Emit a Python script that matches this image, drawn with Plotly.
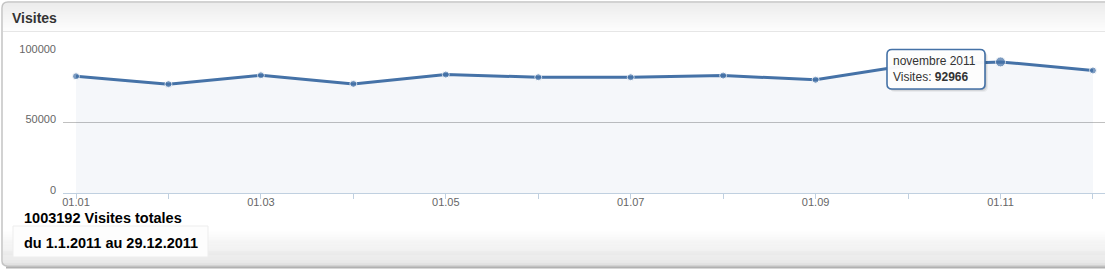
import plotly.graph_objects as go

# ---- data ----
months = ["01.01", "01.02", "01.03", "01.04", "01.05", "01.06",
          "01.07", "01.08", "01.09", "01.10", "01.11", "01.12"]
tick_labels = ["01.01", "", "01.03", "", "01.05", "", "01.07", "", "01.09", "", "01.11", ""]
visits = [82800, 77200, 83500, 77400, 84000, 82100, 82100, 83300, 80300, 90626, 92966, 86900]
y_ticks = [0, 50000, 100000]
title_text = "Visites"
series_name = "Visites"
tooltip_month = "novembre 2011"
tooltip_index = 10
total_visits = 1003192
period_text = "du 1.1.2011 au 29.12.2011"

W, H = 1105, 269
ML, MR, MT, MB = 63, 0, 52, 76
PW, PH = W - ML - MR, H - MT - MB
step = 92.45
x0 = -13 / step
x1 = x0 + PW / step


def px(x):
    return (x - ML) / PW


def py(y):
    return (H - MB - y) / PH


def mix(c1, c2, t):
    return "#%02x%02x%02x" % tuple(round(a + (b - a) * t) for a, b in zip(c1, c2))


x_idx = list(range(len(months)))

fig = go.Figure()
fig.add_trace(go.Scatter(
    x=x_idx, y=visits, mode="lines+markers", fill="tozeroy",
    fillcolor="rgba(69,114,167,0.055)",
    line=dict(color="#4572A7", width=3),
    marker=dict(size=[10 if i == tooltip_index else 7 for i in x_idx], color="#4572A7"),
    cliponaxis=False, hoverinfo="skip", showlegend=False,
))

shapes = []
# panel background gradients (header + footer)
n = 28
for i in range(n):
    t = i / (n - 1)
    ya, yb = 3 + i * 28 / n, 3 + (i + 1) * 28 / n
    shapes.append(dict(type="rect", xref="paper", yref="paper", layer="below",
                       x0=px(3), x1=px(W + 5), y0=py(yb), y1=py(ya),
                       fillcolor=mix((236, 236, 236), (253, 253, 253), t), line_width=0))
n = 32
for i in range(n):
    t = i / (n - 1)
    ya, yb = 230 + i * 35 / n, 230 + (i + 1) * 35 / n
    shapes.append(dict(type="rect", xref="paper", yref="paper", layer="below",
                       x0=px(3), x1=px(W + 5), y0=py(yb), y1=py(ya),
                       fillcolor=mix((255, 255, 255), (225, 225, 225), t), line_width=0))
# header separator
shapes.append(dict(type="line", xref="paper", yref="paper", layer="below",
                   x0=px(3), x1=px(W + 5), y0=py(31.5), y1=py(31.5),
                   line=dict(color="#e6e6e6", width=1)))
# panel border (rounded)
shapes.append(dict(type="path", xref="paper", yref="paper", layer="below",
                   path=(f"M {px(W+10)},{py(2)} L {px(8)},{py(2)} Q {px(2)},{py(2)} {px(2)},{py(8)} "
                         f"L {px(2)},{py(261)} Q {px(2)},{py(266)} {px(8)},{py(266)} L {px(W+10)},{py(266)}"),
                   line=dict(color="#c4c4c4", width=1.5)))
shapes.append(dict(type="line", xref="paper", yref="paper", layer="below",
                   x0=px(6), x1=px(W + 5), y0=py(267.5), y1=py(267.5),
                   line=dict(color="#b0b0b0", width=2)))
# period box
shapes.append(dict(type="rect", xref="paper", yref="paper", layer="below",
                   x0=px(13), x1=px(208), y0=py(257), y1=py(226),
                   fillcolor="#fdfdfd", line=dict(color="#ededed", width=1)))
# tooltip box with shadow
bx0, bx1, by0, by1, r = 887, 985, 49.5, 89, 5


def rounded(xa, xb, ya, yb, rr):
    return (f"M {px(xa+rr)},{py(ya)} L {px(xb-rr)},{py(ya)} Q {px(xb)},{py(ya)} {px(xb)},{py(ya+rr)} "
            f"L {px(xb)},{py(yb-rr)} Q {px(xb)},{py(yb)} {px(xb-rr)},{py(yb)} "
            f"L {px(xa+rr)},{py(yb)} Q {px(xa)},{py(yb)} {px(xa)},{py(yb-rr)} "
            f"L {px(xa)},{py(ya+rr)} Q {px(xa)},{py(ya)} {px(xa+rr)},{py(ya)} Z")


for k, a in ((3, 0.05), (2, 0.08), (1, 0.12)):
    shapes.append(dict(type="path", xref="paper", yref="paper", layer="above",
                       path=rounded(bx0 + k, bx1 + k, by0 + k, by1 + k, r),
                       fillcolor=f"rgba(0,0,0,{a})", line_width=0))
shapes.append(dict(type="path", xref="paper", yref="paper", layer="above",
                   path=rounded(bx0, bx1, by0, by1, r),
                   fillcolor="rgba(255,255,255,0.96)", line=dict(color="#4572A7", width=1.6)))

annotations = [
    dict(xref="paper", yref="paper", x=px(10), y=py(18), xanchor="left", yanchor="middle",
         text=f"<b>{title_text}</b>", showarrow=False,
         font=dict(family="Liberation Sans, Arial", size=14, color="#333333")),
    dict(xref="paper", yref="paper", x=px(22), y=py(218), xanchor="left", yanchor="middle",
         text=f"<b>{total_visits} Visites totales</b>", showarrow=False,
         font=dict(family="Liberation Sans, Arial", size=14.5, color="#000000")),
    dict(xref="paper", yref="paper", x=px(22), y=py(243), xanchor="left", yanchor="middle",
         text=f"<b>{period_text}</b>", showarrow=False,
         font=dict(family="Liberation Sans, Arial", size=14.5, color="#000000")),
    dict(xref="paper", yref="paper", x=px(bx0 + 4), y=py(by0 + 2.5), xanchor="left", yanchor="top",
         text=f"{tooltip_month}<br>{series_name}: <b>{visits[tooltip_index]}</b>", showarrow=False,
         align="left", font=dict(family="Liberation Sans, Arial", size=12, color="#333333")),
]

fig.update_layout(
    width=W, height=H, margin=dict(l=ML, r=MR, t=MT, b=MB, pad=0),
    paper_bgcolor="white", plot_bgcolor="rgba(0,0,0,0)",
    shapes=shapes, annotations=annotations, showlegend=False,
    xaxis=dict(range=[x0, x1], tickvals=x_idx, ticktext=tick_labels,
               ticks="outside", ticklen=5, tickcolor="#C0D0E0", tickwidth=1,
               showline=True, linecolor="#C0D0E0", linewidth=1, showgrid=False, zeroline=False,
               tickfont=dict(family="Liberation Sans, Arial", size=11, color="#666666"),
               ticklabelstandoff=-6, fixedrange=True),
    yaxis=dict(range=[0, 100000], tickvals=y_ticks, ticktext=[str(v) for v in y_ticks],
               showgrid=True, gridcolor="#C0C0C0", gridwidth=1, zeroline=False,
               tickfont=dict(family="Liberation Sans, Arial", size=11, color="#666666"),
               ticklabelstandoff=6, ticklabelshift=-3, fixedrange=True),
)

fig.write_html("out.html", config={"displayModeBar": False})
